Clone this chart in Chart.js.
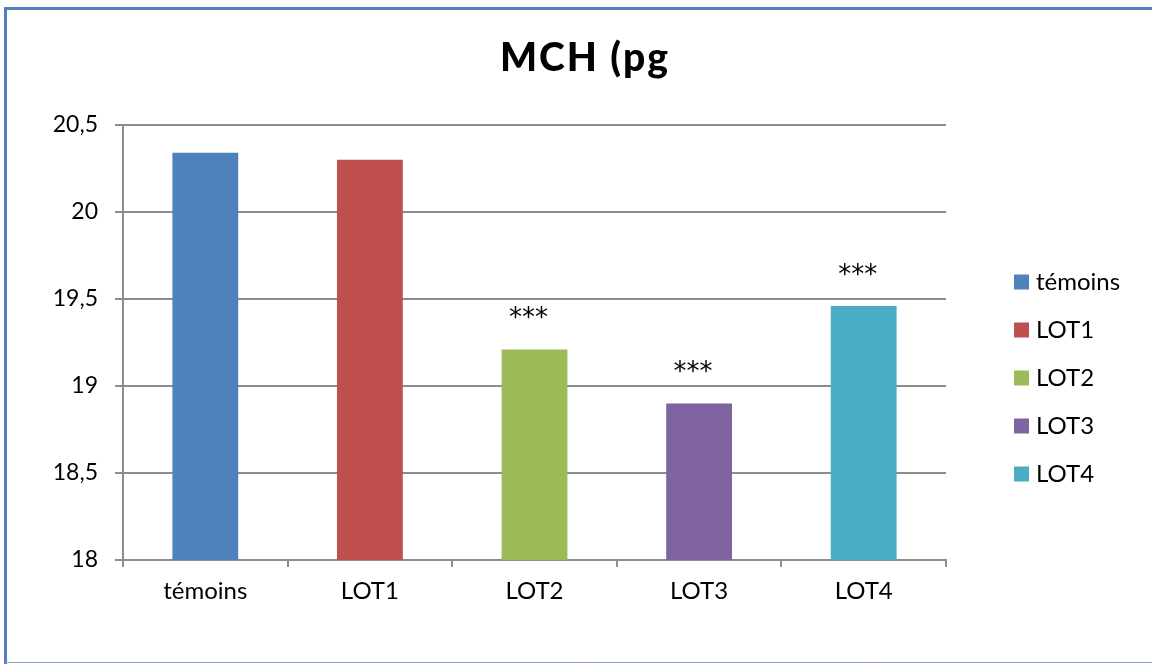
<!DOCTYPE html>
<html>
<head>
<meta charset="utf-8">
<script src="https://cdn.jsdelivr.net/npm/chart.js@4/dist/chart.umd.min.js"></script>
<style>
  html, body { margin: 0; padding: 0; background: #ffffff; }
  #wrap { width: 1152px; height: 664px; position: relative; }
</style>
</head>
<body>
<div id="wrap"><canvas id="c" width="1152" height="664"></canvas></div>
<script>
// MCH values (pg) per group
const categories = ['témoins', 'LOT1', 'LOT2', 'LOT3', 'LOT4'];
const mchValues = [20.34, 20.30, 19.21, 18.90, 19.46];
const significance = ['', '', '***', '***', '***'];
const barColors = ['#4f81bd', '#c0504d', '#9bbb59', '#8064a2', '#4bacc6'];
const yTicks = [18, 18.5, 19, 19.5, 20, 20.5];
const chartTitle = 'MCH (pg';

const FONT = 'Lato, "Open Sans", sans-serif';
const GRID = '#8c8c8c';

// white page + blue frame around the chart
const framePlugin = {
  id: 'frame',
  beforeDraw(chart) {
    const ctx = chart.ctx;
    ctx.save();
    ctx.fillStyle = '#ffffff';
    ctx.fillRect(0, 0, chart.width, chart.height);
    ctx.restore();
  },
  afterDraw(chart) {
    const ctx = chart.ctx;
    ctx.save();
    ctx.strokeStyle = '#4f81bd';
    ctx.lineWidth = 3;
    ctx.beginPath();
    ctx.moveTo(5.5, chart.height);
    ctx.lineTo(5.5, 8.5);
    ctx.lineTo(chart.width, 8.5);
    ctx.stroke();
    ctx.strokeStyle = '#7f9fc8';
    ctx.lineWidth = 1;
    ctx.beginPath();
    ctx.moveTo(5, chart.height - 1.5);
    ctx.lineTo(chart.width, chart.height - 1.5);
    ctx.stroke();
    ctx.restore();
  }
};

// bold chart title, centred over the whole frame
const titlePlugin = {
  id: 'bigTitle',
  afterDraw(chart) {
    const ctx = chart.ctx;
    ctx.save();
    ctx.font = '900 39px ' + FONT;
    if ('letterSpacing' in ctx) ctx.letterSpacing = '2px';
    ctx.fillStyle = '#000000';
    ctx.textAlign = 'center';
    ctx.textBaseline = 'alphabetic';
    ctx.fillText(chartTitle, 585, 71);
    ctx.restore();
  }
};

// significance stars above the bars
const starsPlugin = {
  id: 'stars',
  afterDatasetsDraw(chart) {
    const ctx = chart.ctx;
    const meta = chart.getDatasetMeta(0);
    ctx.save();
    ctx.font = '26px "DejaVu Sans", sans-serif';
    ctx.fillStyle = '#000000';
    ctx.textAlign = 'center';
    ctx.textBaseline = 'alphabetic';
    meta.data.forEach((bar, i) => {
      if (!significance[i]) return;
      ctx.fillText(significance[i], bar.x - 6, bar.y - 23);
    });
    ctx.restore();
  }
};

// legend on the right, one entry per group
const sideLegendPlugin = {
  id: 'sideLegend',
  afterDraw(chart) {
    const ctx = chart.ctx;
    const x0 = chart.chartArea.right + 68;
    const y0 = 282;
    const step = 48;
    ctx.save();
    ctx.font = '24px ' + FONT;
    ctx.textBaseline = 'middle';
    ctx.textAlign = 'left';
    categories.forEach((name, i) => {
      const y = y0 + i * step;
      ctx.fillStyle = barColors[i];
      ctx.fillRect(x0, y - 7.5, 15, 15);
      ctx.fillStyle = '#000000';
      ctx.fillText(name, x0 + 22, y);
    });
    ctx.restore();
  }
};

new Chart(document.getElementById('c'), {
  type: 'bar',
  data: {
    labels: categories,
    datasets: [{
      label: chartTitle,
      data: mchValues,
      backgroundColor: barColors,
      borderWidth: 0,
      categoryPercentage: 1.0,
      barPercentage: 0.4
    }]
  },
  options: {
    responsive: false,
    animation: false,
    devicePixelRatio: 1,
    layout: { padding: { left: 0, right: 206, top: 125, bottom: 0 } },
    plugins: {
      legend: { display: false },
      tooltip: { enabled: false },
      title: { display: false }
    },
    scales: {
      x: {
        offset: true,
        grid: {
          offset: true,
          drawOnChartArea: false,
          drawTicks: true,
          tickLength: 7,
          color: GRID,
          lineWidth: 2
        },
        border: { display: true, color: GRID, width: 2 },
        ticks: {
          color: '#000000',
          font: { family: FONT, size: 24 },
          padding: 10,
          maxRotation: 0
        },
        afterFit(scale) { scale.height = 104; }
      },
      y: {
        min: 18,
        max: 20.5,
        afterBuildTicks(scale) { scale.ticks = yTicks.map(v => ({ value: v })); },
        grid: {
          color: GRID,
          lineWidth: 2,
          drawTicks: true,
          tickLength: 8
        },
        border: { display: true, color: GRID, width: 2 },
        ticks: {
          color: '#000000',
          font: { family: FONT, size: 23 },
          padding: 17,
          callback: v => String(v).replace('.', ',')
        },
        afterFit(scale) { scale.width = 123; }
      }
    }
  },
  plugins: [framePlugin, titlePlugin, starsPlugin, sideLegendPlugin]
});
</script>
</body>
</html>
